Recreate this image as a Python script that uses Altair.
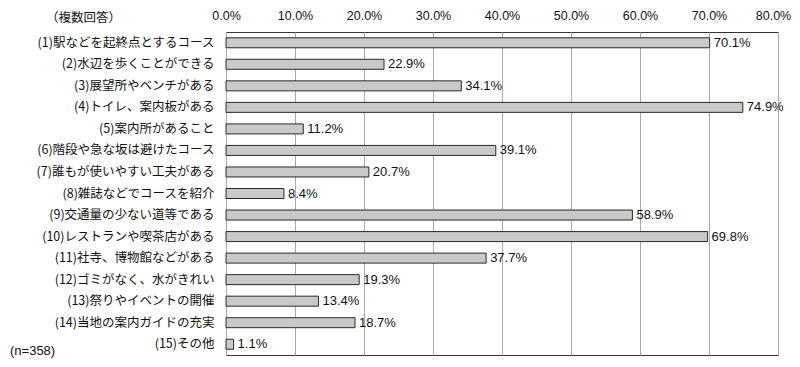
import altair as alt
import pandas as pd

categories = [
    "(1)駅などを起終点とするコース",
    "(2)水辺を歩くことができる",
    "(3)展望所やベンチがある",
    "(4)トイレ、案内板がある",
    "(5)案内所があること",
    "(6)階段や急な坂は避けたコース",
    "(7)誰もが使いやすい工夫がある",
    "(8)雑誌などでコースを紹介",
    "(9)交通量の少ない道等である",
    "(10)レストランや喫茶店がある",
    "(11)社寺、博物館などがある",
    "(12)ゴミがなく、水がきれい",
    "(13)祭りやイベントの開催",
    "(14)当地の案内ガイドの充実",
    "(15)その他",
]
values = [70.1, 22.9, 34.1, 74.9, 11.2, 39.1, 20.7, 8.4, 58.9, 69.8, 37.7, 19.3, 13.4, 18.7, 1.1]
x_ticks = [0, 10, 20, 30, 40, 50, 60, 70, 80]
note_top = "（複数回答）"
note_bottom = "(n=358)"

df = pd.DataFrame({"cat": categories, "val": values})

JP = "Noto Sans CJK JP"
LAT = "Liberation Sans"

x_enc = alt.X(
    "val:Q",
    scale=alt.Scale(domain=[0, 80], nice=False),
    axis=alt.Axis(
        orient="top",
        values=x_ticks,
        labelExpr="format(datum.value, '.1f') + '%'",
        title=None,
        ticks=False,
        domain=False,
        grid=True,
        gridColor="#a8a8a8",
        gridWidth=1,
        labelFont=LAT,
        labelFontSize=12.5,
        labelColor="#111",
        labelPadding=10,
        labelFlush=False,
        labelOffset={"condition": {"test": "datum.value === 80", "value": -5}, "value": 0},
    ),
)
y_enc = alt.Y(
    "cat:N",
    sort=None,
    axis=alt.Axis(
        title=None,
        ticks=False,
        domain=False,
        labelFont=JP,
        labelFontSize=12.5,
        labelColor="#111",
        labelPadding=12,
        labelLimit=0,
    ),
)

base = alt.Chart(df)

bars = base.mark_bar(size=10, color="#c9c9c9", stroke="#2a2a2a", strokeWidth=1).encode(
    x=x_enc, y=y_enc
)

labels = base.transform_calculate(
    lab="format(datum.val, '.1f') + '%'"
).mark_text(align="left", baseline="middle", dx=4, font=LAT, fontSize=13, color="#111").encode(
    x="val:Q", y=alt.Y("cat:N", sort=None), text="lab:N"
)

top_note = alt.Chart(pd.DataFrame({"t": [note_top]})).mark_text(
    align="left", baseline="middle", font=JP, fontSize=12.5, color="#111"
).encode(x=alt.value(-180), y=alt.value(-14), text="t:N")

bottom_note = alt.Chart(pd.DataFrame({"t": [note_bottom]})).mark_text(
    align="left", baseline="middle", font=LAT, fontSize=13, color="#111"
).encode(x=alt.value(-216), y=alt.value(319), text="t:N")

chart = (
    alt.layer(bars, labels, top_note, bottom_note)
    .properties(
        width=552,
        height=323,
        autosize=alt.AutoSizeParams(type="none"),
        padding={"left": 218, "top": 24, "right": 14, "bottom": 4},
        background="white",
    )
    .configure_view(stroke="#333", strokeWidth=1)
)

chart.save("out.html", embed_options={"renderer": "svg", "actions": False})
